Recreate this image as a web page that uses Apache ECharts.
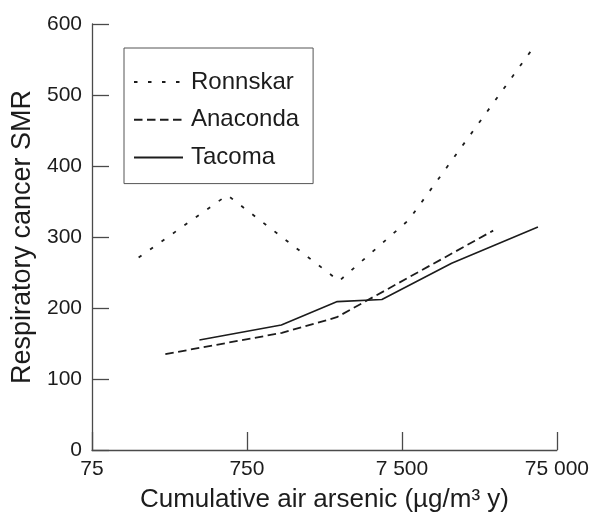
<!DOCTYPE html>
<html>
<head>
<meta charset="utf-8">
<script src="https://cdn.jsdelivr.net/npm/echarts@6/dist/echarts.min.js"></script>
<style>
html,body{margin:0;padding:0;background:#fff;}
#chart{width:592px;height:518px;}
</style>
</head>
<body>
<div id="chart"></div>
<script>
// ---- data (cumulative air arsenic, µg/m³ y  vs  respiratory cancer SMR) ----
const seriesNames = ['Ronnskar', 'Anaconda', 'Tacoma'];
const ronnskarX = [150, 560, 2950, 8300, 52600];
const ronnskarY = [271, 359, 238, 324, 566];
const anacondaX = [223, 1260, 2850, 29100];
const anacondaY = [135, 165, 187, 309];
const tacomaX = [370, 1250, 2870, 5570, 15700, 56600];
const tacomaY = [155, 176, 209, 212, 263, 314];
const xTickLabels = ['75', '750', '7 500', '75 000'];
const xTitle = 'Cumulative air arsenic (µg/m³ y)';
const yTitle = 'Respiratory cancer SMR';

const FONT = '"Liberation Sans", Arial, sans-serif';
const INK = '#1c1c1c';
const AXIS = '#4a4a4a';

function pairs(xs, ys) { return xs.map((x, i) => [x, ys[i]]); }

const chart = echarts.init(document.getElementById('chart'), null, {renderer: 'canvas'});
chart.setOption({
  backgroundColor: '#ffffff',
  animation: false,
  textStyle: {fontFamily: FONT, color: INK},
  grid: {left: 92, right: 33, top: 24, bottom: 68, containLabel: false},
  legend: {
    show: true,
    orient: 'vertical',
    left: 124,
    top: 48,
    padding: [22, 14, 14, 9],
    borderColor: '#555',
    borderWidth: 1,
    backgroundColor: '#fff',
    itemWidth: 49,
    itemHeight: 1,
    itemGap: 13.8,
    itemStyle: {opacity: 0, borderWidth: 0},
    data: seriesNames,
    textStyle: {fontFamily: FONT, fontSize: 24, color: INK, lineHeight: 24, padding: [0, 0, 0, 3]}
  },
  xAxis: [
    {
      type: 'log', logBase: 10, min: 75, max: 75000, position: 'bottom', show: false
    },
    {
      type: 'value', min: 0, max: 3, interval: 1, position: 'bottom',
      name: xTitle, nameLocation: 'middle', nameGap: 37,
      nameTextStyle: {fontFamily: FONT, fontSize: 26, color: INK},
      axisLine: {show: true, lineStyle: {color: AXIS, width: 1.3}},
      axisTick: {show: true, inside: true, length: 18, lineStyle: {color: AXIS, width: 1.3}},
      axisLabel: {show: true, margin: 9, fontFamily: FONT, fontSize: 21, color: INK,
        formatter: v => xTickLabels[Math.round(v)]},
      splitLine: {show: false}
    }
  ],
  yAxis: {
    type: 'value', min: 0, max: 600, interval: 100,
    name: yTitle, nameLocation: 'middle', nameGap: 56,
    nameTextStyle: {fontFamily: FONT, fontSize: 27, color: INK},
    axisLine: {show: true, lineStyle: {color: AXIS, width: 1.3}},
    axisTick: {show: true, inside: true, length: 17, lineStyle: {color: AXIS, width: 1.3}},
    axisLabel: {show: true, margin: 10, fontFamily: FONT, fontSize: 21, color: INK},
    splitLine: {show: false}
  },
  series: [
    {
      name: seriesNames[0], type: 'line', xAxisIndex: 0, symbol: 'none',
      data: pairs(ronnskarX, ronnskarY),
      lineStyle: {color: INK, width: 1.8, type: [3.5, 10.5]},
      itemStyle: {color: INK}
    },
    {
      name: seriesNames[1], type: 'line', xAxisIndex: 0, symbol: 'none',
      data: pairs(anacondaX, anacondaY),
      lineStyle: {color: INK, width: 1.8, type: [8.5, 4.5]},
      itemStyle: {color: INK}
    },
    {
      name: seriesNames[2], type: 'line', xAxisIndex: 0, symbol: 'none',
      data: pairs(tacomaX, tacomaY),
      lineStyle: {color: INK, width: 1.6, type: 'solid'},
      itemStyle: {color: INK}
    }
  ]
});
</script>
</body>
</html>
